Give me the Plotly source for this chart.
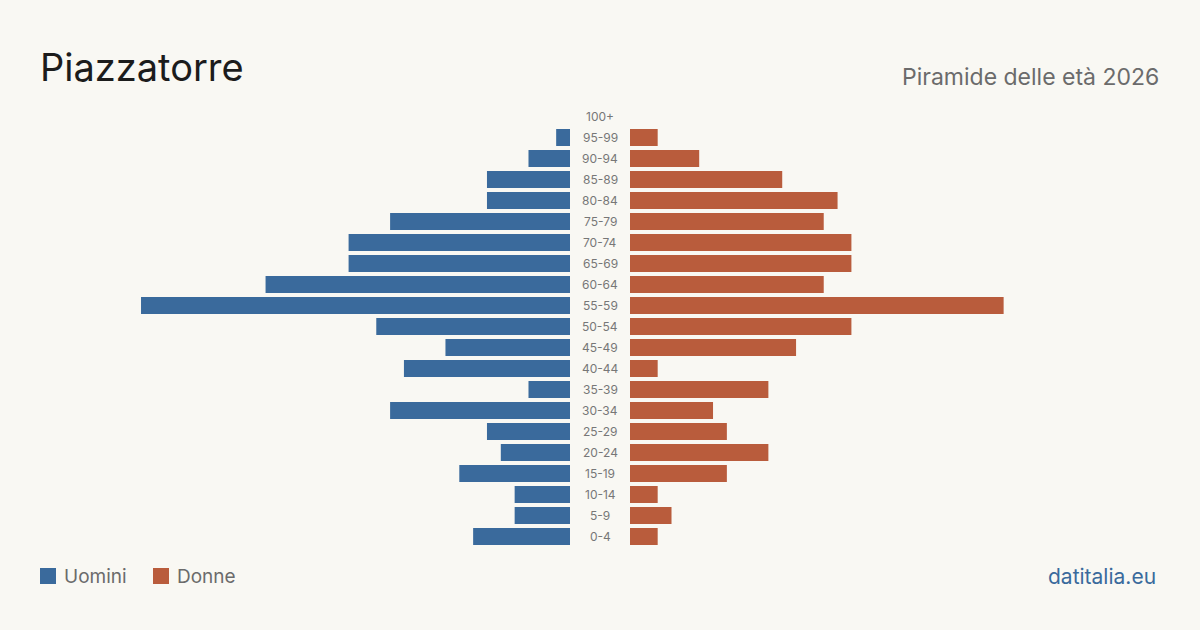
import plotly.graph_objects as go

age_groups = ["0-4", "5-9", "10-14", "15-19", "20-24", "25-29", "30-34", "35-39",
              "40-44", "45-49", "50-54", "55-59", "60-64", "65-69", "70-74",
              "75-79", "80-84", "85-89", "90-94", "95-99", "100+"]
men = [7, 4, 4, 8, 5, 6, 13, 3, 12, 9, 14, 31, 22, 16, 16, 13, 6, 6, 3, 1, 0]
women = [2, 3, 2, 7, 10, 7, 6, 10, 2, 12, 16, 27, 14, 16, 16, 14, 15, 11, 5, 2, 0]

title = "Piazzatorre"
subtitle = "Piramide delle età 2026"
source = "datitalia.eu"
legend_labels = ["Uomini", "Donne"]

BLUE = "#3a6a9c"
ORANGE = "#b95c3c"
BG = "#f9f8f3"
FONT = "Inter, 'Noto Sans', sans-serif"

W, H = 1200, 630
ML, MR, MT, MB = 40, 40, 106, 83
pw = W - ML - MR
ph = H - MT - MB
left_end = (570 - ML) / pw
right_start = (630 - ML) / pw
xmax = 38.3


def px_x(px):
    return (px - ML) / pw


def px_y(py):
    return (H - MB - py) / ph


fig = go.Figure()
fig.add_trace(go.Bar(y=age_groups, x=men, orientation="h", marker=dict(color=BLUE, line=dict(width=0)),
                     xaxis="x", yaxis="y", name=legend_labels[0], showlegend=False,
                     hovertemplate="%{y}: %{x}<extra>Uomini</extra>"))
fig.add_trace(go.Bar(y=age_groups, x=women, orientation="h", marker=dict(color=ORANGE, line=dict(width=0)),
                     xaxis="x2", yaxis="y", name=legend_labels[1], showlegend=False,
                     hovertemplate="%{y}: %{x}<extra>Donne</extra>"))

annotations = []
for g in age_groups:
    annotations.append(dict(x=0.5, xref="paper", y=g, yref="y", text=g, showarrow=False,
                            xanchor="center", yanchor="middle",
                            font=dict(family=FONT, size=12, color="#777777")))

annotations.append(dict(x=px_x(38), y=px_y(67), xref="paper", yref="paper", text=title,
                        showarrow=False, xanchor="left", yanchor="middle",
                        font=dict(family=FONT, size=38, color="#1c1c1c")))
annotations.append(dict(x=px_x(1161), y=px_y(77), xref="paper", yref="paper", text=subtitle,
                        showarrow=False, xanchor="right", yanchor="middle",
                        font=dict(family=FONT, size=23, color="#6b6b6b")))
annotations.append(dict(x=px_x(1158), y=px_y(576), xref="paper", yref="paper", text=source,
                        showarrow=False, xanchor="right", yanchor="middle",
                        font=dict(family=FONT, size=21, color=BLUE)))
annotations.append(dict(x=px_x(62), y=px_y(576), xref="paper", yref="paper", text=legend_labels[0],
                        showarrow=False, xanchor="left", yanchor="middle",
                        font=dict(family=FONT, size=19, color="#6b6b6b")))
annotations.append(dict(x=px_x(175), y=px_y(576), xref="paper", yref="paper", text=legend_labels[1],
                        showarrow=False, xanchor="left", yanchor="middle",
                        font=dict(family=FONT, size=19, color="#6b6b6b")))

shapes = [
    dict(type="rect", xref="paper", yref="paper", x0=px_x(40), x1=px_x(56), y0=px_y(584), y1=px_y(568),
         fillcolor=BLUE, line=dict(width=0)),
    dict(type="rect", xref="paper", yref="paper", x0=px_x(153), x1=px_x(169), y0=px_y(584), y1=px_y(568),
         fillcolor=ORANGE, line=dict(width=0)),
]

fig.update_layout(
    width=W, height=H,
    margin=dict(l=ML, r=MR, t=MT, b=MB),
    paper_bgcolor=BG, plot_bgcolor=BG,
    bargap=0.19,
    showlegend=False,
    xaxis=dict(domain=[0, left_end], range=[xmax, 0], visible=False, fixedrange=True),
    xaxis2=dict(domain=[right_start, 1], range=[0, xmax], visible=False, fixedrange=True),
    yaxis=dict(categoryorder="array", categoryarray=age_groups, visible=False,
               range=[-0.5, len(age_groups) - 0.5], fixedrange=True),
    annotations=annotations,
    shapes=shapes,
    font=dict(family=FONT),
)

fig.write_html("out.html")
